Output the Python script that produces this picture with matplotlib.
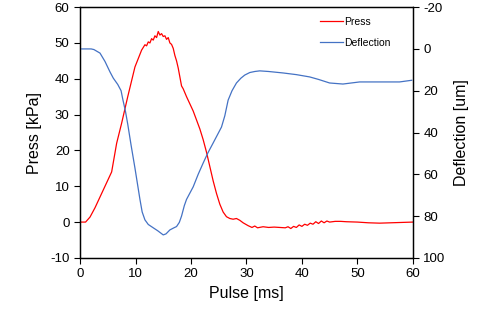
import matplotlib
matplotlib.use('Agg')
import matplotlib.pyplot as plt

plt.rcParams['font.family'] = ['Liberation Sans', 'DejaVu Sans']
plt.rcParams['axes.unicode_minus'] = False

# press curve (time ms, kPa)
t_press = [0, 1, 1.8, 2.7, 3.6, 4.8, 5.7, 6.6, 7.5, 8.6, 9.9, 11.1, 11.7, 12.0, 12.3, 12.6,
           12.9, 13.2, 13.5, 13.8, 14.1, 14.4, 14.7, 15.0, 15.3, 15.6, 15.9, 16.2, 16.5,
           16.8, 17.1, 17.4, 17.7, 18.0, 18.3, 18.6, 19.2, 19.8, 20.4, 21, 21.6, 22.2, 22.8,
           23.4, 24, 24.6, 25.2, 25.8, 26.4, 27, 27.6, 28.2, 28.8, 29.4, 30.3, 31, 31.5, 32,
           33, 34, 35, 36, 37, 37.5, 38, 38.5, 39, 39.5, 40, 40.5, 41, 41.5, 42, 42.5, 43,
           43.5, 44, 44.5, 45, 46, 47, 48, 50, 52, 54, 56, 58, 60]
press = [0, 0, 1.4, 4, 7, 11, 14, 22, 27.6, 35, 43.3, 48, 49.5, 49.2, 50.3, 50,
         51.2, 50.8, 52, 51.5, 53.2, 52.2, 52.6, 51.8, 52, 51, 51.5, 50, 49.6,
         48.5, 46.5, 45, 43, 40.5, 38, 37.2, 35, 33, 31, 28.5, 26, 23, 19.5,
         15.5, 11.5, 8, 5, 2.8, 1.5, 1, 0.8, 1, 0.5, -0.2, -1, -1.5, -1.1, -1.6,
         -1.3, -1.5, -1.4, -1.5, -1.6, -1.3, -1.8, -1.2, -1.5, -0.8, -1.2, -0.6, -0.9, -0.3, -0.6, 0.1, -0.4,
         0.3, -0.2, 0.3, 0, 0.2, 0.2, 0.1, 0, -0.2, -0.3, -0.2, -0.1, 0]

# deflection curve (time ms, um)
t_defl = [0, 2, 2.5, 3.6, 4.5, 5.4, 6, 6.8, 7.4, 7.7, 8.2, 8.6, 9.2, 9.9, 10.8, 11.2, 11.7,
          12.3, 13.2, 14, 15, 15.5, 16.2, 17, 17.4, 17.9, 18.3, 18.8, 19.2, 20.4, 21.3, 22.2,
          23, 24, 25.5, 26.1, 26.7, 27.4, 28.2, 29, 29.7, 30.6, 31.5, 32.4, 34, 36.6, 39,
          41.4, 43, 45, 47.4, 50.4, 54.6, 57.6, 59.8]
defl = [0, 0, 0.3, 2, 6, 11, 14, 17, 20, 24, 30, 36, 46, 57, 72, 78, 81.8,
        84, 85.6, 87, 89, 88.5, 86.6, 85.5, 85, 83, 80, 75, 72, 66, 60, 54.6,
        50, 45, 37.4, 32, 24.5, 20, 16.3, 14, 12.5, 11.3, 10.8, 10.5, 10.8, 11.5, 12.3,
        13.4, 14.6, 16.3, 16.8, 15.8, 15.8, 15.8, 15]

fig = plt.figure(figsize=(4.88, 3.24), dpi=100)
ax = fig.add_axes([0.164, 0.204, 0.682, 0.774])
ax2 = ax.twinx()

l1, = ax.plot(t_press, press, color='#ff0000', lw=0.9, label='Press')
l2, = ax2.plot(t_defl, defl, color='#4472c4', lw=0.9, label='Deflection')

ax.set_xlim(0, 60)
ax.set_ylim(-10, 60)
ax.set_xticks(range(0, 61, 10))
ax.set_yticks(range(-10, 61, 10))
ax2.set_ylim(100, -20)
ax2.set_yticks(range(-20, 101, 20))

ax.set_xlabel('Pulse [ms]', fontsize=11.5, labelpad=4)
ax.set_ylabel('Press [kPa]', fontsize=11.5, labelpad=6)
ax2.set_ylabel('Deflection [um]', fontsize=11.5, labelpad=6)

for a in (ax, ax2):
    a.tick_params(labelsize=9.5, direction='out', length=4, width=0.8)
    for s in a.spines.values():
        s.set_linewidth(0.9)

ax.legend([l1, l2], ['Press', 'Deflection'], loc='upper right', frameon=False,
          fontsize=7.5, handlelength=2.2, handletextpad=0.1, labelspacing=1.1,
          bbox_to_anchor=(0.96, 1.0))

fig.savefig('out.png', dpi=100)
